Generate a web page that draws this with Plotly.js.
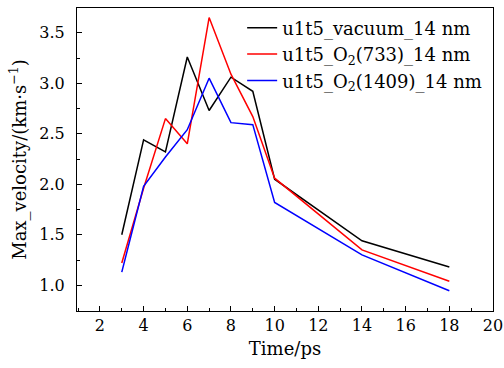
<!DOCTYPE html>
<html><head><meta charset="utf-8">
<script src="https://cdn.plot.ly/plotly-3.0.1.min.js"></script>
<style>html,body{margin:0;padding:0;background:#fff}#chart{width:504px;height:368px}</style>
</head><body><div id="chart"></div>
<script>
const timePs = [3, 4, 5, 6, 7, 8, 9, 10, 14, 18];
const vacuum = [1.50, 2.44, 2.32, 3.26, 2.73, 3.06, 2.92, 2.05, 1.44, 1.18];
const o2_733 = [1.22, 1.96, 2.65, 2.40, 3.65, 3.09, 2.67, 2.06, 1.35, 1.04];
const o2_1409 = [1.13, 1.98, 2.27, 2.54, 3.05, 2.61, 2.59, 1.82, 1.30, 0.945];
const names = ["u1t5_vacuum_14 nm", "u1t5_O<sub>2</sub>(733)_14 nm", "u1t5_O<sub>2</sub>(1409)_14 nm"];
const colors = ["#000000", "#ff0000", "#0000ff"];
const font = "DejaVu Serif";
const series = [vacuum, o2_733, o2_1409];
const traces = series.map((s, i) => ({
  x: timePs, y: s, type: "scatter", mode: "lines", name: names[i],
  line: {color: colors[i], width: 1.5}
}));
const axBase = {
  showgrid: false, zeroline: false, showline: true, linecolor: "#000", linewidth: 1,
  mirror: true, ticks: "inside", ticklen: 5, tickcolor: "#000",
  tickfont: {family: font, size: 16, color: "#000"}
};
const layout = {
  width: 504, height: 368,
  margin: {l: 77, r: 11, t: 8, b: 57},
  paper_bgcolor: "#fff", plot_bgcolor: "#fff",
  showlegend: true,
  legend: {x: 0.397, y: 0.995, xanchor: "left", yanchor: "top", bgcolor: "rgba(0,0,0,0)",
    itemwidth: 30, font: {family: font, size: 18, color: "#000"}, tracegroupgap: 0},
  xaxis: Object.assign({}, axBase, {range: [0.95, 20], dtick: 2, tick0: 0,
    minor: {dtick: 1, ticks: "inside", ticklen: 3, tickcolor: "#000"},
    title: {text: "Time/ps", font: {family: font, size: 18, color: "#000"}, standoff: 8}}),
  yaxis: Object.assign({}, axBase, {range: [0.745, 3.745], dtick: 0.5, tick0: 0, tickformat: ".1f",
    ticklabelstandoff: 8,
    minor: {dtick: 0.25, ticks: "inside", ticklen: 3, tickcolor: "#000"},
    title: {text: "Max_velocity/(km·s<sup>−1</sup>)", font: {family: font, size: 18, color: "#000"}, standoff: 8}})
};
Plotly.newPlot("chart", traces, layout, {displayModeBar: false, staticPlot: true});
</script></body></html>
